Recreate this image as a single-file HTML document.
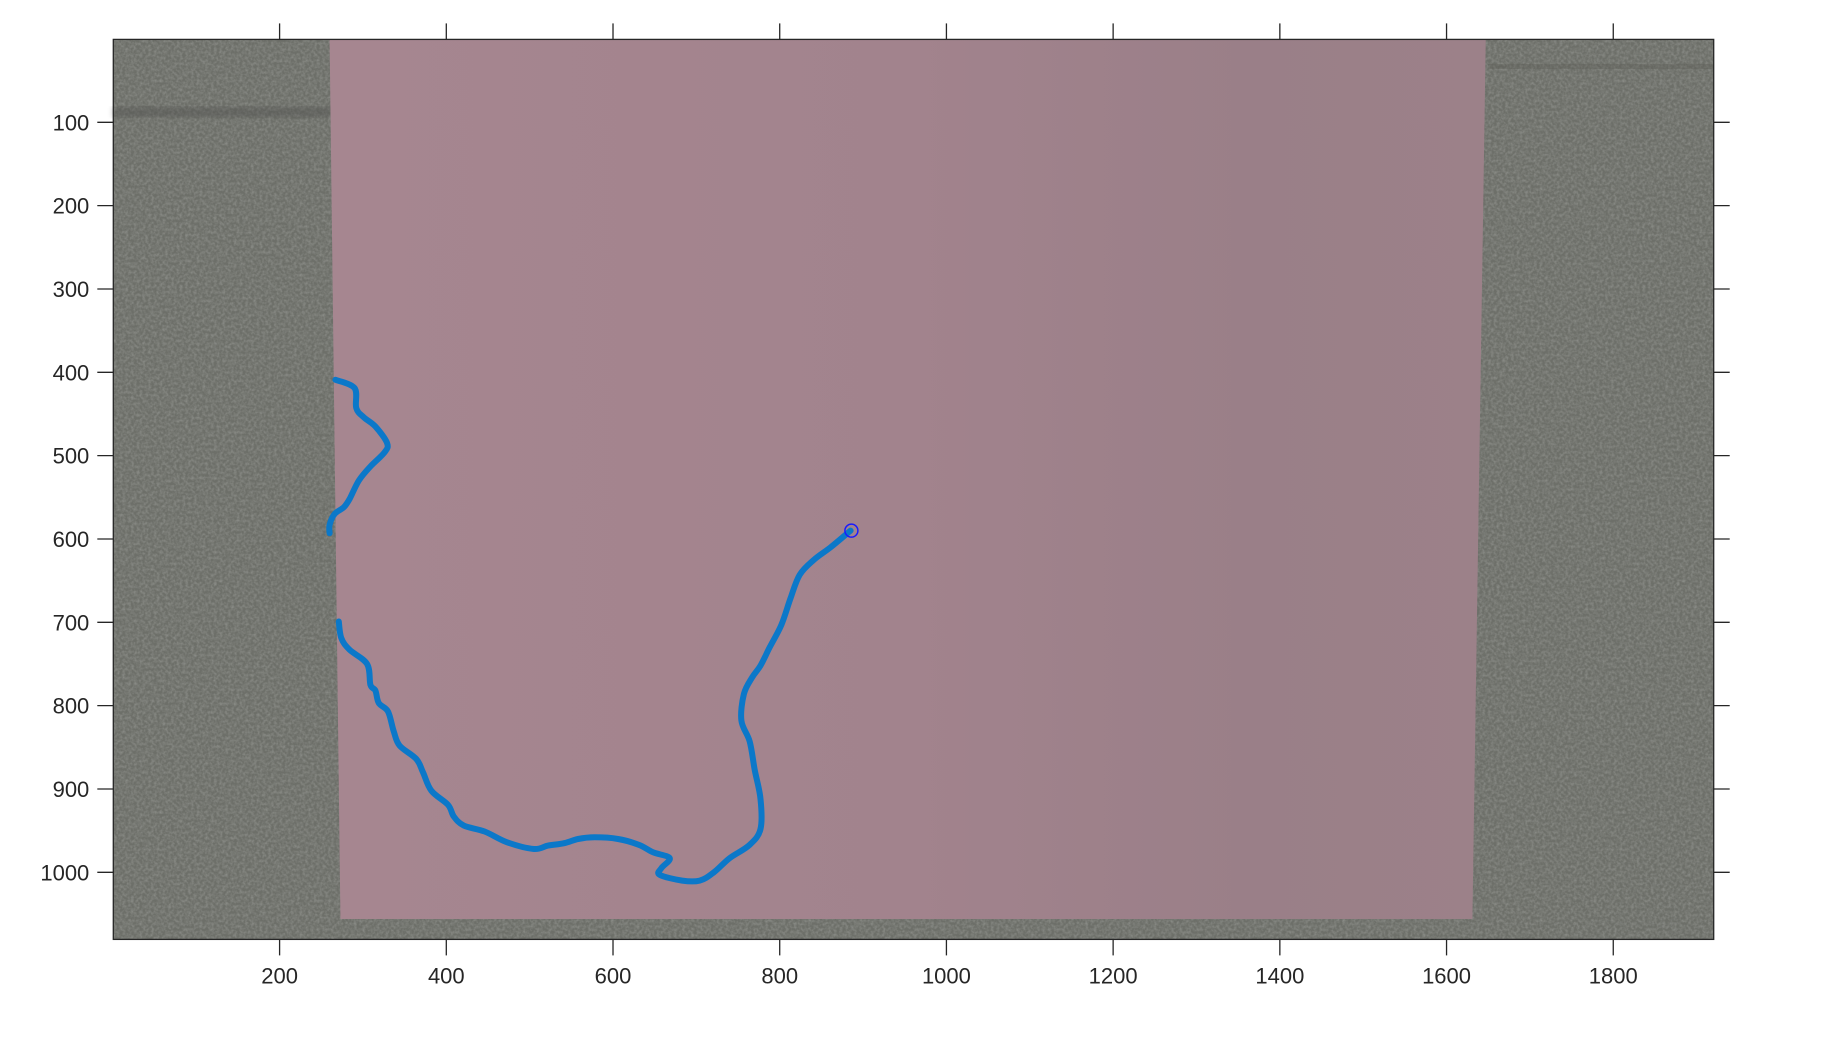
<!DOCTYPE html>
<html><head><meta charset="utf-8"><style>
html,body{margin:0;padding:0;background:#fff;width:1830px;height:1041px;overflow:hidden}
svg text{font-family:"Liberation Sans",Arial,sans-serif;font-size:22px;fill:#262626}
</style></head><body>
<svg id="chart" width="1830" height="1041" viewBox="0 0 1830 1041" xmlns="http://www.w3.org/2000/svg">
<defs>
<linearGradient id="pinkg" x1="0" x2="1" y1="0" y2="0">
<stop offset="0" stop-color="#a68690"/><stop offset="0.5" stop-color="#a2838d"/><stop offset="0.8" stop-color="#9a7f88"/><stop offset="1" stop-color="#9c8189"/>
</linearGradient>
<filter id="noise" x="0" y="0" width="100%" height="100%">
<feTurbulence type="fractalNoise" baseFrequency="0.35" numOctaves="2" seed="3"/>
<feColorMatrix type="matrix" values="0 0 0 0 0.45  0 0 0 0 0.46  0 0 0 0 0.44  0 0 0 1.2 -0.4"/>
</filter>
<filter id="blur"><feGaussianBlur stdDeviation="3"/></filter>
</defs>
<g id="plot"></g>
</svg>
<script>
// Track data (image pixel coordinates); null = break
const trackX = [267,290,292,301,315,329,326,309,295,284,277,266,260,260,null,271,274,284,305,309,315,319,330,337,344,364,372,382,402,409,421,446,473,505,522,542,558,578,606,631,648,668,658,656,683,704,721,740,764,777,777,770,764,754,757,767,777,788,802,813,824,841,861,885];
const trackY = [409,419,443,454,465,485,496,513,530,552,562,570,583,593,null,699,719,733,750,775,782,797,807,831,848,864,880,902,919,933,944,951,964,972,968,965,960,958,960,967,976,983,995,1003,1010,1010,1000,983,967,948,912,877,843,818,786,766,752,730,703,671,643,625,610,590];
const markerX = [886];
const markerY = [590];
const xTicks = [200,400,600,800,1000,1200,1400,1600,1800];
const yTicks = [100,200,300,400,500,600,700,800,900,1000];
const paperX = [260,1647,1631,273];
const paperY = [0.5,0.5,1056,1056];

const L=113.3,T=39.4,W=1600.4,H=900;
const xmin=0.5,xmax=1920.5,ymin=0.5,ymax=1080.5;
function sx(v){return L+(v-xmin)/(xmax-xmin)*W;}
function sy(v){return T+(v-ymin)/(ymax-ymin)*H;}
const NS='http://www.w3.org/2000/svg';
const g=document.getElementById('plot');
function mk(tag,attrs){const e=document.createElementNS(NS,tag);for(const k in attrs)e.setAttribute(k,attrs[k]);g.appendChild(e);return e;}

const bg=mk('rect',{x:L,y:T,width:W,height:H,fill:'#6d6f69'});


const nz=mk('rect',{x:L,y:T,width:W,height:H,filter:'url(#noise)',opacity:'0.6'});


const band=mk('rect',{x:L,y:sy(82),width:sx(262)-L,height:10,fill:'#4f504d',opacity:'0.45',filter:'url(#blur)'});


const band2=mk('rect',{x:sx(1650),y:sy(30),width:L+W-sx(1650),height:5,fill:'#55564f',opacity:'0.3'});



let pts=paperX.map((x,i)=>sx(x)+','+sy(paperY[i])).join(' ');
const paper=mk('polygon',{points:pts,fill:'url(#pinkg)'});



// smooth path (Catmull-Rom) per segment
let segs=[],cur=[];
for(let i=0;i<trackX.length;i++){
 if(trackX[i]===null){if(cur.length)segs.push(cur);cur=[];continue;}
 cur.push([sx(trackX[i]),sy(trackY[i])]);
}
if(cur.length)segs.push(cur);
let d='';
for(const s of segs){
 d+='M'+s[0][0].toFixed(1)+' '+s[0][1].toFixed(1)+' ';
 for(let i=0;i<s.length-1;i++){
  const p0=s[Math.max(0,i-1)],p1=s[i],p2=s[i+1],p3=s[Math.min(s.length-1,i+2)];
  const c1=[p1[0]+(p2[0]-p0[0])/6,p1[1]+(p2[1]-p0[1])/6];
  const c2=[p2[0]-(p3[0]-p1[0])/6,p2[1]-(p3[1]-p1[1])/6];
  d+='C'+c1[0].toFixed(1)+' '+c1[1].toFixed(1)+' '+c2[0].toFixed(1)+' '+c2[1].toFixed(1)+' '+p2[0].toFixed(1)+' '+p2[1].toFixed(1)+' ';
 }
}
const path=mk('path',{d:d,fill:'none',stroke:'#0b78c9','stroke-width':6,'stroke-linejoin':'round','stroke-linecap':'round'});



for(let i=0;i<markerX.length;i++){
 const c=mk('circle',{cx:sx(markerX[i]),cy:sy(markerY[i]),r:6.5,fill:'none',stroke:'#1a1aff','stroke-width':1.5});
 
 
}

const box=mk('rect',{x:L,y:T,width:W,height:H,fill:'none',stroke:'#262626','stroke-width':1.3});



for(const v of xTicks){
 const x=sx(v);
 const t1=mk('line',{x1:x,x2:x,y1:T+H,y2:T+H+16,stroke:'#262626','stroke-width':1.3});
 
 
 const t2=mk('line',{x1:x,x2:x,y1:T,y2:T-16,stroke:'#262626','stroke-width':1.3});
 
 
 const tx=mk('text',{x:x,y:T+H+44,'text-anchor':'middle'});tx.textContent=v;
 
 
}
for(const v of yTicks){
 const y=sy(v);
 const t1=mk('line',{x1:L-16,x2:L,y1:y,y2:y,stroke:'#262626','stroke-width':1.3});
 
 
 const t2=mk('line',{x1:L+W,x2:L+W+16,y1:y,y2:y,stroke:'#262626','stroke-width':1.3});
 
 
 const tx=mk('text',{x:L-24,y:y+8,'text-anchor':'end'});tx.textContent=v;
 
 
}
</script>
</body></html>
